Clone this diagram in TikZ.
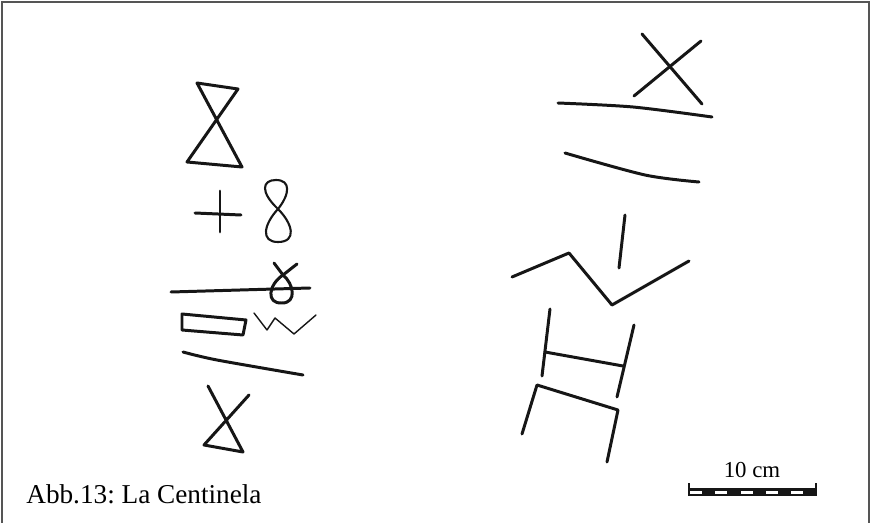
\documentclass[tikz,border=0pt]{standalone}
\usepackage{fontspec}
\setmainfont{Liberation Serif}
\usepackage{tikz}
\usetikzlibrary{positioning}
\definecolor{ink}{RGB}{22,22,22}
\definecolor{framegray}{RGB}{85,85,85}
\frenchspacing

\begin{document}
\begin{tikzpicture}[x=0.02cm, y=-0.02cm,
  groove/.style={draw=ink, line width=1.7pt, line cap=round, line join=round},
  thingroove/.style={draw=ink, line width=0.8pt, line cap=round, line join=round}]
  \useasboundingbox (0,0) rectangle (872,523);
  \draw[framegray, line width=1.1pt] (2,2) rectangle (869,526);

  \draw[groove] (197,83) -- (238,89) -- (187,162) -- (242,167) -- cycle;
  \draw[groove] (195,213) -- (241,215);
  \draw[groove] (220,191) -- (220,232);
  \draw[groove, line width=1.2pt] (278,209) .. controls (260,192) and (262,180) .. (276,180) .. controls (291,180) and (290,194) .. (278,209) .. controls (264,224) and (260,242) .. (278,242) .. controls (297,242) and (293,224) .. (278,209);
  \draw[groove] (171,292) -- (240,290) -- (310,288);
  \draw[groove] (274,263) -- (283,275) .. controls (294,284) and (297,303) .. (282,303) .. controls (266,304) and (268,285) .. (283,275) -- (297,264);
  \draw[groove] (182,314) -- (246,320) -- (243,335) -- (182,330) -- cycle;
  \draw[thingroove] (254,313) -- (267,330) -- (275,318) -- (294,334) -- (316,315);
  \draw[groove] plot[smooth] coordinates {(183,352) (217,360) (303,375)};
  \draw[groove] (208,386) -- (243,452) -- (204,445) -- (249,395);

  \draw[groove] (642,34) -- (702,104);
  \draw[groove] (701,41) -- (634,96);
  \draw[groove] plot[smooth] coordinates {(558,103) (633,107) (712,117)};
  \draw[groove] plot[smooth] coordinates {(565,153) (645,175) (699,182)};
  \draw[groove] (625,215) -- (619,268);
  \draw[groove] (512,277) -- (569,253) -- (612,305) -- (689,261);
  \draw[groove] (550,309) -- (542,376);
  \draw[groove] (545,352) -- (623,366);
  \draw[groove] (634,325) -- (617,397);
  \draw[groove] (522,434) -- (537,385) -- (618,410) -- (607,462);

  \node[anchor=base west, font=\fontsize{15.5}{18}\selectfont, inner sep=0pt] (caption) at (26,503) {Abb.13: La Centinela};
  \node[anchor=base, font=\fontsize{13}{15}\selectfont, inner sep=0pt] (scalelabel) at (752,477) {10 cm};
  \fill[ink] (689,488) rectangle (816,496);
  \foreach \k in {0,...,4}
    \fill[white] ({690+\k*25.3},490.5) rectangle ({702+\k*25.3},493.5);
  \draw[ink, line width=0.6pt] (689,483) -- (689,496);
  \draw[ink, line width=0.6pt] (816,483) -- (816,496);
\end{tikzpicture}
\end{document}
